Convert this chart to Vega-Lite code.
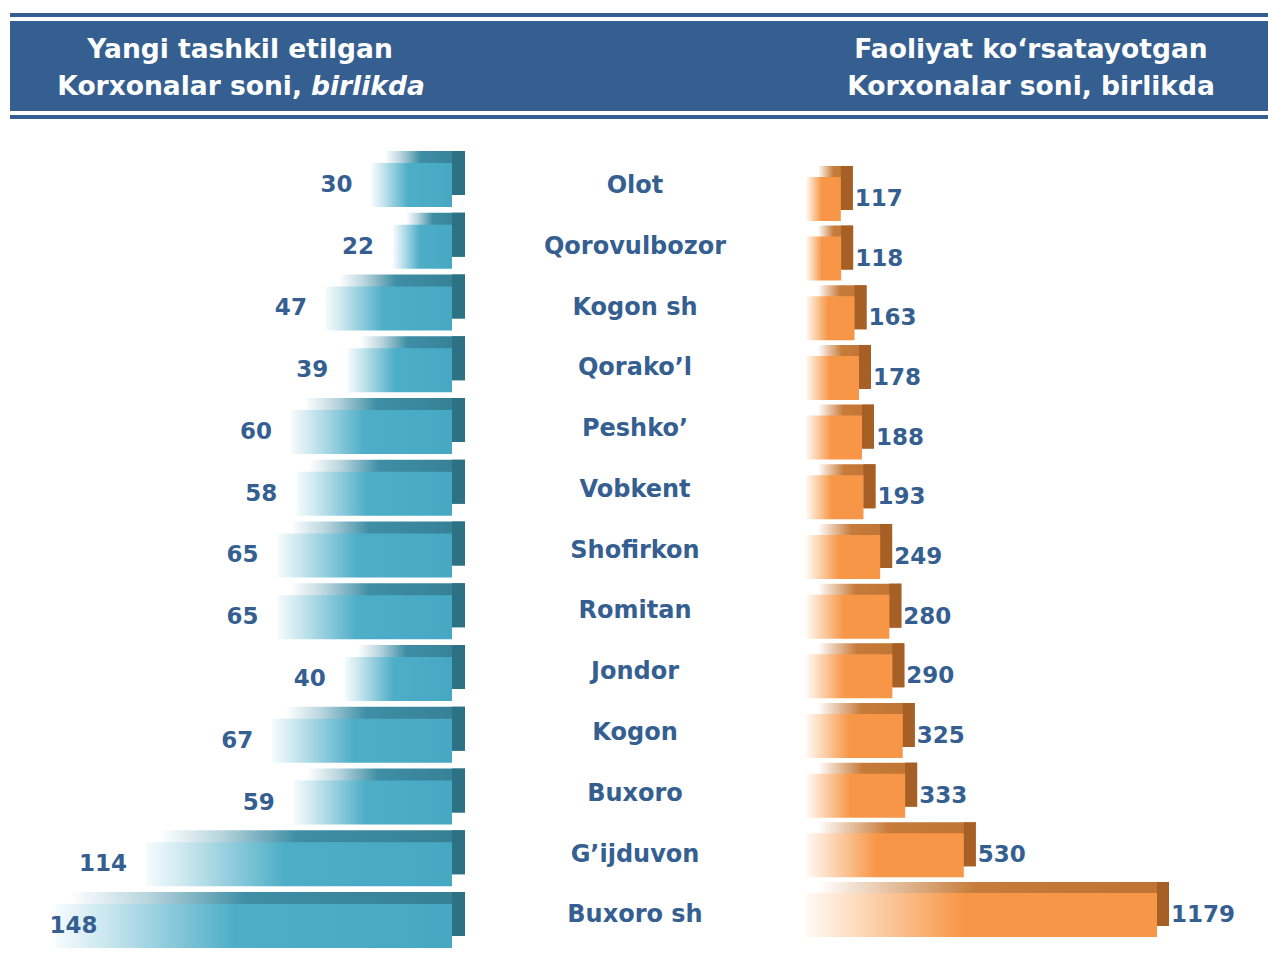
{
  "$schema": "https://vega.github.io/schema/vega-lite/v6.json",
  "padding": {"left": 10, "top": 13, "right": 0, "bottom": 0},
  "background": "white",
  "bounds": "flush",
  "config": {"view": {"stroke": null}},
  "datasets": {
    "rows": [
      {"region": "Olot", "new": 30, "active": 117},
      {"region": "Qorovulbozor", "new": 22, "active": 118},
      {"region": "Kogon sh", "new": 47, "active": 163},
      {"region": "Qorako’l", "new": 39, "active": 178},
      {"region": "Peshko’", "new": 60, "active": 188},
      {"region": "Vobkent", "new": 58, "active": 193},
      {"region": "Shofirkon", "new": 65, "active": 249},
      {"region": "Romitan", "new": 65, "active": 280},
      {"region": "Jondor", "new": 40, "active": 290},
      {"region": "Kogon", "new": 67, "active": 325},
      {"region": "Buxoro", "new": 59, "active": 333},
      {"region": "G’ijduvon", "new": 114, "active": 530},
      {"region": "Buxoro sh", "new": 148, "active": 1179}
    ]
  },
  "spacing": 4,
  "vconcat": [
    {
      "width": 1258, "height": 4,
      "view": {"fill": "#365f91", "stroke": null},
      "data": {"values": [{"t": ""}]},
      "mark": {"type": "text", "fontSize": 0, "opacity": 0},
      "encoding": {"text": {"field": "t"}}
    },
    {
      "width": 1258, "height": 90,
      "view": {"fill": "#365f91", "stroke": null},
      "layer": [
        {
          "data": {"values": [
            {"side": "L", "line": 1, "text": "Yangi tashkil etilgan"},
            {"side": "R", "line": 1, "text": "Faoliyat ko‘rsatayotgan"},
            {"side": "R", "line": 2, "text": "Korxonalar soni, birlikda"}
          ]},
          "mark": {"type": "text", "font": "DejaVu Sans", "fontWeight": "bold", "fontSize": 26.5, "color": "#ffffff", "baseline": "alphabetic", "align": "center"},
          "encoding": {
            "x": {"field": "side", "type": "nominal", "axis": null, "scale": {"type": "point", "domain": ["L", "R"], "padding": 0.2952, "align": 0.4925}},
            "y": {"field": "line", "type": "ordinal", "axis": null, "scale": {"type": "point", "domain": [1, 2], "padding": 0.716, "align": 0.698}},
            "text": {"field": "text"}
          }
        },
        {
          "data": {"values": [{"side": "L", "line": 2, "text": "Korxonalar soni,"}]},
          "mark": {"type": "text", "font": "DejaVu Sans", "fontWeight": "bold", "fontSize": 26.5, "color": "#ffffff", "baseline": "alphabetic", "align": "right", "dx": 62},
          "encoding": {
            "x": {"field": "side", "type": "nominal", "axis": null, "scale": {"type": "point", "domain": ["L", "R"], "padding": 0.2952, "align": 0.4925}},
            "y": {"field": "line", "type": "ordinal", "axis": null, "scale": {"type": "point", "domain": [1, 2], "padding": 0.716, "align": 0.698}},
            "text": {"field": "text"}
          }
        },
        {
          "data": {"values": [{"side": "L", "line": 2, "text": "birlikda"}]},
          "mark": {"type": "text", "font": "DejaVu Sans", "fontWeight": "bold", "fontStyle": "italic", "fontSize": 26.5, "color": "#ffffff", "baseline": "alphabetic", "align": "left", "dx": 71},
          "encoding": {
            "x": {"field": "side", "type": "nominal", "axis": null, "scale": {"type": "point", "domain": ["L", "R"], "padding": 0.2952, "align": 0.4925}},
            "y": {"field": "line", "type": "ordinal", "axis": null, "scale": {"type": "point", "domain": [1, 2], "padding": 0.716, "align": 0.698}},
            "text": {"field": "text"}
          }
        }
      ]
    },
    {
      "width": 1258, "height": 4,
      "view": {"fill": "#365f91", "stroke": null},
      "data": {"values": [{"t": ""}]},
      "mark": {"type": "text", "fontSize": 0, "opacity": 0},
      "encoding": {"text": {"field": "t"}}
    },
    {
      "spacing": 0,
      "bounds": "flush",
      "hconcat": [
        {
          "width": 460, "height": 851,
          "data": {"name": "rows"},
          "resolve": {"scale": {"x": "independent"}},
          "layer": [
            {
              "mark": {"type": "bar", "xOffset": 13, "x2Offset": 13, "yOffset": -12, "y2Offset": -12,
                "fill": {"gradient": "linear", "x1": 0, "y1": 0, "x2": 1, "y2": 0, "stops": [
                  {"offset": 0, "color": "#ffffff"}, {"offset": 0.2, "color": "#b9d5de"}, {"offset": 0.45, "color": "#3e8ea5"}, {"offset": 1, "color": "#367f94"}]}},
              "encoding": {
                "x": {"field": "new", "type": "quantitative", "axis": null, "scale": {"domain": [0, 148], "range": [442, 45.4]}},
                "x2": {"datum": 0},
                "y": {"field": "region", "type": "nominal", "sort": null, "axis": null, "scale": {"type": "band", "paddingInner": 0.2874, "paddingOuter": 0.534, "align": 0.606}}
              }
            },
            {
              "mark": {"type": "bar", "x2Offset": 13, "yOffset": -12, "y2Offset": -12, "fill": "#2d7185"},
              "encoding": {
                "x": {"datum": 0, "type": "quantitative", "axis": null, "scale": {"domain": [0, 148], "range": [442, 45.4]}},
                "x2": {"datum": 0},
                "y": {"field": "region", "type": "nominal", "sort": null, "axis": null, "scale": {"type": "band", "paddingInner": 0.2874, "paddingOuter": 0.534, "align": 0.606}}
              }
            },
            {
              "mark": {"type": "bar",
                "fill": {"gradient": "linear", "x1": 0, "y1": 0, "x2": 1, "y2": 0, "stops": [
                  {"offset": 0, "color": "#f5fbfd"}, {"offset": 0.12, "color": "#cde8f0"}, {"offset": 0.45, "color": "#4eaec8"}, {"offset": 1, "color": "#47a8c4"}]}},
              "encoding": {
                "x": {"field": "new", "type": "quantitative", "axis": null, "scale": {"domain": [0, 148], "range": [442, 45.4]}},
                "x2": {"datum": 0},
                "y": {"field": "region", "type": "nominal", "sort": null, "axis": null, "scale": {"type": "band", "paddingInner": 0.2874, "paddingOuter": 0.534, "align": 0.606}}
              }
            },
            {
              "mark": {"type": "text", "font": "DejaVu Sans", "fontWeight": "bold", "fontSize": 23, "color": "#365f91", "align": "right", "baseline": "middle", "dx": -19},
              "encoding": {
                "x": {"field": "new", "type": "quantitative", "axis": null, "scale": {"domain": [0, 125], "range": [442, 106.6], "clamp": true}},
                "y": {"field": "region", "type": "nominal", "sort": null, "axis": null, "scale": {"type": "band", "paddingInner": 0.2874, "paddingOuter": 0.534, "align": 0.606}},
                "text": {"field": "new"}
              }
            }
          ]
        },
        {
          "width": 330, "height": 851,
          "data": {"name": "rows"},
          "mark": {"type": "text", "font": "DejaVu Sans", "fontWeight": "bold", "fontSize": 24, "color": "#365f91", "align": "center", "baseline": "middle"},
          "encoding": {
            "y": {"field": "region", "type": "nominal", "sort": null, "axis": null, "scale": {"type": "point", "padding": 1.025, "align": 0.518}},
            "text": {"field": "region"}
          }
        },
        {
          "width": 468, "height": 851,
          "data": {"name": "rows"},
          "layer": [
            {
              "mark": {"type": "bar", "xOffset": 12, "x2Offset": 12, "yOffset": -11, "y2Offset": -11,
                "fill": {"gradient": "linear", "x1": 0, "y1": 0, "x2": 1, "y2": 0, "stops": [
                  {"offset": 0, "color": "#ffffff"}, {"offset": 0.2, "color": "#e6c3a4"}, {"offset": 0.45, "color": "#c77b3a"}, {"offset": 1, "color": "#bf7433"}]}},
              "encoding": {
                "x": {"field": "active", "type": "quantitative", "axis": null, "scale": {"domain": [0, 1179], "range": [6, 357]}},
                "x2": {"datum": 0},
                "y": {"field": "region", "type": "nominal", "sort": null, "axis": null, "scale": {"type": "band", "paddingInner": 0.2626, "paddingOuter": 0.762, "align": 0.593}}
              }
            },
            {
              "mark": {"type": "bar", "x2Offset": 12, "yOffset": -11, "y2Offset": -11, "fill": "#a65f25"},
              "encoding": {
                "x": {"field": "active", "type": "quantitative", "axis": null, "scale": {"domain": [0, 1179], "range": [6, 357]}},
                "x2": {"field": "active"},
                "y": {"field": "region", "type": "nominal", "sort": null, "axis": null, "scale": {"type": "band", "paddingInner": 0.2626, "paddingOuter": 0.762, "align": 0.593}}
              }
            },
            {
              "mark": {"type": "bar",
                "fill": {"gradient": "linear", "x1": 0, "y1": 0, "x2": 1, "y2": 0, "stops": [
                  {"offset": 0, "color": "#fffaf5"}, {"offset": 0.12, "color": "#fde0c6"}, {"offset": 0.45, "color": "#f79646"}, {"offset": 1, "color": "#f79646"}]}},
              "encoding": {
                "x": {"field": "active", "type": "quantitative", "axis": null, "scale": {"domain": [0, 1179], "range": [6, 357]}},
                "x2": {"datum": 0},
                "y": {"field": "region", "type": "nominal", "sort": null, "axis": null, "scale": {"type": "band", "paddingInner": 0.2626, "paddingOuter": 0.762, "align": 0.593}}
              }
            },
            {
              "mark": {"type": "text", "font": "DejaVu Sans", "fontWeight": "bold", "fontSize": 23, "color": "#365f91", "align": "left", "baseline": "middle", "dx": 14},
              "encoding": {
                "x": {"field": "active", "type": "quantitative", "axis": null, "scale": {"domain": [0, 1179], "range": [6, 357]}},
                "y": {"field": "region", "type": "nominal", "sort": null, "axis": null, "scale": {"type": "band", "paddingInner": 0.2626, "paddingOuter": 0.762, "align": 0.593}},
                "text": {"field": "active"}
              }
            }
          ]
        }
      ]
    }
  ]
}
